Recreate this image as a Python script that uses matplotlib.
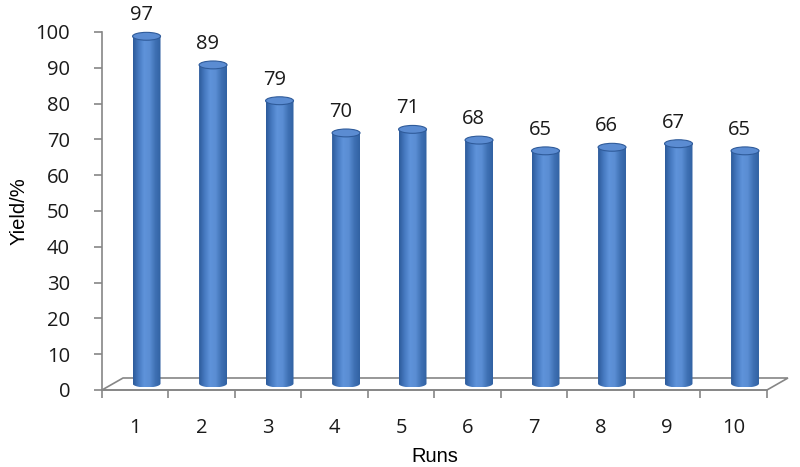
import numpy as np
import matplotlib.pyplot as plt
from matplotlib.patches import Ellipse, PathPatch, Polygon
from matplotlib.path import Path
from matplotlib.colors import LinearSegmentedColormap

runs = [1, 2, 3, 4, 5, 6, 7, 8, 9, 10]
yield_pct = [97, 89, 79, 70, 71, 68, 65, 66, 67, 65]

plt.rcParams['font.family'] = ['Open Sans', 'DejaVu Sans']

GRAY = '#868686'
shade = LinearSegmentedColormap.from_list(
    'cyl', ['#2c5a9a', '#4679c0', '#5f93da', '#5a8dd3', '#3f71b4', '#3161a2'])

fig = plt.figure(figsize=(8, 4.67), dpi=100)
ax = fig.add_axes([0.1275, 0.1649, 0.8312, 0.7666])
ax.set_xlim(0.5, 10.5)
ax.set_ylim(0, 100)

# depth offsets of the 3d floor (data units)
ddx, ddy = 0.316, 3.35
floor = Polygon([(0.5, 0), (10.5, 0), (10.5 + ddx, ddy), (0.5 + ddx, ddy)],
                closed=True, facecolor='white', edgecolor=GRAY, lw=1.2,
                clip_on=False, zorder=1)
ax.add_patch(floor)

grad = np.linspace(0, 1, 256).reshape(1, -1)
hw, eh, base = 0.21, 1.1, 1.8
for r, v in zip(runs, yield_pct):
    cx = r + 0.17
    top = v + base
    # body outline: left side down, bottom half ellipse, right side up
    t = np.linspace(np.pi, 2 * np.pi, 60)
    arc = np.column_stack([cx + hw * np.cos(t), base + eh * np.sin(t)])
    verts = np.vstack([[cx - hw, top], arc, [cx + hw, top], [cx - hw, top]])
    clip = PathPatch(Path(verts), transform=ax.transData, facecolor='none',
                     edgecolor='none')
    ax.add_patch(clip)
    im = ax.imshow(grad, cmap=shade, aspect='auto', zorder=2,
                   extent=[cx - hw, cx + hw, base - eh, top], clip_on=True)
    im.set_clip_path(clip)
    ax.add_patch(Ellipse((cx, top), 2 * hw, 2 * eh, facecolor='#5b8cd2',
                         edgecolor='#2f5b9a', lw=0.8, zorder=3, clip_on=False))
    ax.text(r + 0.09, v + 7.7, str(v), ha='center', va='center', fontsize=14.5,
            color='#1a1a1a', clip_on=False)

ax.set_xlim(0.5, 10.5)
ax.set_ylim(0, 100)

for s in ['top', 'right']:
    ax.spines[s].set_visible(False)
for s in ['left', 'bottom']:
    ax.spines[s].set_color(GRAY)
    ax.spines[s].set_linewidth(1.2)

ax.set_yticks(np.arange(0, 101, 10))
ax.tick_params(axis='y', direction='out', length=6, width=1.2, color=GRAY,
               pad=17, labelsize=14.5, labelcolor='#1a1a1a')
ax.set_xticks(np.arange(0.5, 11, 1))
ax.set_xticklabels([])
ax.set_xticks(runs, minor=True)
ax.set_xticklabels([str(r) for r in runs], minor=True)
ax.tick_params(axis='x', which='major', direction='out', length=6, width=1.2,
               color=GRAY)
ax.tick_params(axis='x', which='minor', length=0, pad=20, labelsize=14.5,
               labelcolor='#1a1a1a')

ax.set_xlabel('Runs', fontsize=14.5, labelpad=7, family='Liberation Sans')
ax.set_ylabel('Yield/%', fontsize=14.5, labelpad=5, family='Liberation Sans')

fig.savefig('out.png', dpi=100)
